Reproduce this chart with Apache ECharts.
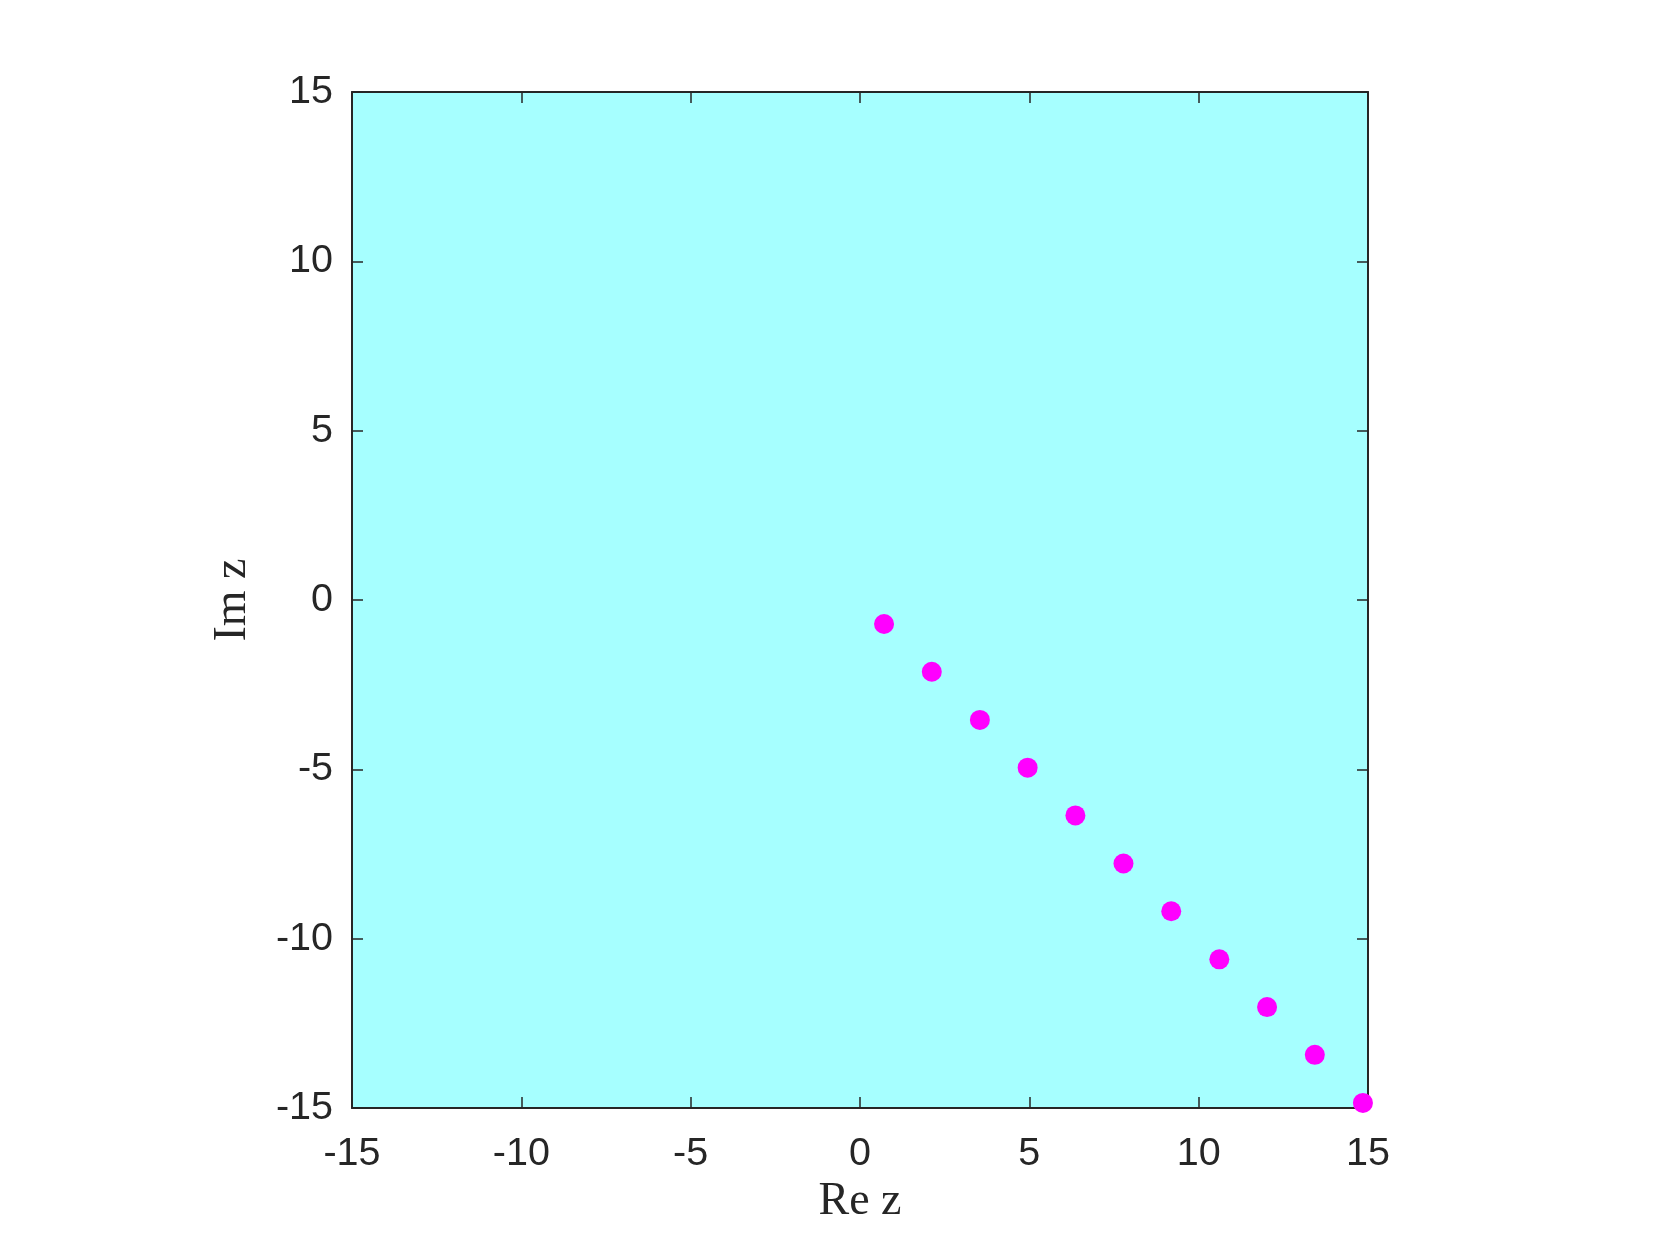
<!DOCTYPE html>
<html><head><meta charset="utf-8">
<script src="https://cdn.jsdelivr.net/npm/echarts@6/dist/echarts.min.js"></script>
<style>html,body{margin:0;padding:0;background:#fff;}#c{width:1661px;height:1246px;}</style>
</head><body><div id="c"></div>
<script>
const reValues = [0.71, 2.12, 3.54, 4.95, 6.36, 7.78, 9.19, 10.61, 12.02, 13.43, 14.85];
const imValues = [-0.71, -2.12, -3.54, -4.95, -6.36, -7.78, -9.19, -10.61, -12.02, -13.43, -14.85];
const xTickLabels = ['-15','-10','-5','0','5','10','15'];
const yTickLabels = ['-15','-10','-5','0','5','10','15'];
const xTitle = 'Re z';
const yTitle = 'Im z';

const points = reValues.map((x, i) => [x, imValues[i]]);
const axisColor = '#262626';
const tickFont = {fontFamily: 'Liberation Sans', fontSize: 39.5, color: '#262626'};
const nameFont = {fontFamily: 'Liberation Serif', fontSize: 46, color: '#262626'};

function baseAxis(extra) {
  return Object.assign({
    type: 'value', min: -15, max: 15, interval: 5,
    axisLine: {show: true, onZero: false, lineStyle: {color: axisColor, width: 2}},
    axisTick: {show: true, inside: true, length: 11, lineStyle: {color: axisColor, width: 1.5}},
    splitLine: {show: false}
  }, extra);
}

const chart = echarts.init(document.getElementById('c'), null, {renderer: 'canvas'});
chart.setOption({
  animation: false,
  grid: {left: 352, top: 92, width: 1016, height: 1016, show: true, backgroundColor: '#a6ffff', borderWidth: 0},
  xAxis: [
    baseAxis({position: 'bottom', name: xTitle, nameLocation: 'middle', nameGap: 70, nameTextStyle: nameFont,
      axisLabel: {show: true, margin: 26, ...tickFont, formatter: v => xTickLabels[Math.round((v + 15) / 5)]}}),
    baseAxis({position: 'top', axisLabel: {show: false}})
  ],
  yAxis: [
    baseAxis({position: 'left', name: yTitle, nameLocation: 'middle', nameGap: 96, nameTextStyle: nameFont,
      axisLabel: {show: true, margin: 19, padding: [10, 0, 0, 0], ...tickFont, formatter: v => yTickLabels[Math.round((v + 15) / 5)]}}),
    baseAxis({position: 'right', axisLabel: {show: false}})
  ],
  series: [{
    type: 'scatter', data: points, symbol: 'circle', symbolSize: 20, clip: false,
    itemStyle: {color: '#ff00ff', opacity: 1}, z: 5
  }]
});
</script></body></html>
